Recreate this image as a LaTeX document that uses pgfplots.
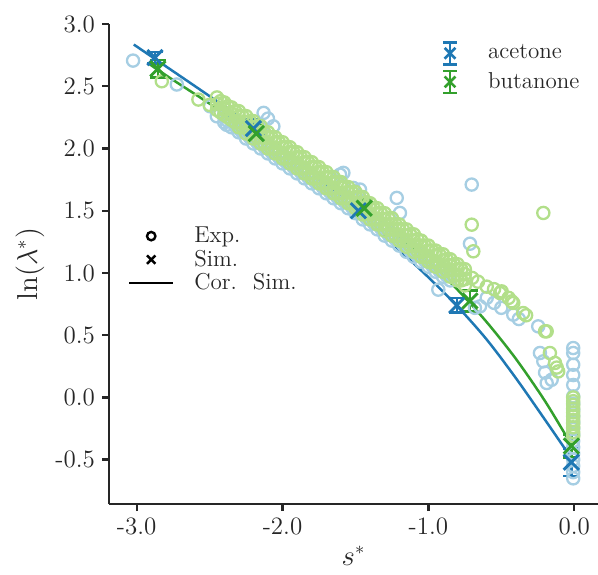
\documentclass[border=0pt]{standalone}
\usepackage{pgfplots}
\pgfplotsset{compat=1.18}
\definecolor{accb}{HTML}{1F78B4}
\definecolor{butg}{HTML}{33A02C}
\definecolor{lblue}{HTML}{A6CEE3}
\definecolor{lgreen}{HTML}{B2DF8A}
\definecolor{spine}{HTML}{262626}
\begin{document}
\begin{tikzpicture}
\begin{axis}[name=ax,
 scale only axis, width=244.5pt, height=240pt,
 xmin=-3.19, xmax=0.163, ymin=-0.856, ymax=3.0,
 axis x line*=bottom, axis y line*=left,
 axis line style={spine, line width=1.4pt},
 tick align=outside, major tick length=3.5pt,
 tick style={spine, line width=1.2pt},
 xtick={-3,-2,-1,0}, xticklabels={-3.0,-2.0,-1.0,0.0},
 ytick={-0.5,0,0.5,1,1.5,2,2.5,3}, yticklabels={-0.5,0.0,0.5,1.0,1.5,2.0,2.5,3.0},
 ticklabel style={font=\fontsize{12.5}{14}\selectfont, text=spine},
 xlabel={$s^*$}, ylabel={$\ln(\lambda^*)$},
 label style={font=\fontsize{13.5}{16}\selectfont, text=spine},
 xlabel style={at={(axis description cs:0.5,-0.108)}, anchor=center},
 ylabel style={at={(axis description cs:-0.1616,0.5)}, anchor=center},
 legend cell align=left,
 legend style={draw=none, fill=none, inner sep=0pt, outer sep=0pt,
   font=\fontsize{11.5}{13}\selectfont, text=spine,
   at={(axis description cs:0.6524,0.9646)}, anchor=north west,
   row sep=2pt, column sep=8pt, nodes={inner sep=0pt}},
]
% Exp. acetone
\addplot[forget plot, only marks, mark=o, mark size=3.05pt, line width=1.15pt, draw=lblue] coordinates {
(-3.025,2.706) (-2.725,2.514) (-2.497,2.339) (-2.451,2.259) (-2.383,2.19) (-2.29,2.152) (-2.13,2.286) (-2.10,2.24) (-2.063,2.178)
(-2.40,2.21) (-2.40,2.27) (-2.375,2.22) (-2.35,2.17) (-2.35,2.23) (-2.325,2.18) (-2.30,2.13) (-2.30,2.19) (-2.275,2.13)
(-2.25,2.08) (-2.25,2.14) (-2.225,2.09) (-2.20,2.04) (-2.20,2.10) (-2.175,2.05) (-2.15,2.00) (-2.15,2.06) (-2.125,2.01)
(-2.10,1.96) (-2.10,2.02) (-2.075,1.97) (-2.05,1.92) (-2.05,1.98) (-2.025,1.93) (-2.00,1.88) (-2.00,1.94) (-1.975,1.89)
(-1.95,1.84) (-1.95,1.90) (-1.925,1.85) (-1.90,1.80) (-1.90,1.86) (-1.875,1.81) (-1.85,1.76) (-1.85,1.82) (-1.825,1.77)
(-1.80,1.72) (-1.80,1.78) (-1.775,1.73) (-1.75,1.68) (-1.75,1.74) (-1.725,1.69) (-1.70,1.64) (-1.70,1.70) (-1.675,1.65)
(-1.65,1.60) (-1.65,1.66) (-1.625,1.61) (-1.60,1.56) (-1.60,1.62) (-1.575,1.57) (-1.55,1.52) (-1.55,1.58) (-1.525,1.53)
(-1.50,1.48) (-1.50,1.54) (-1.475,1.48) (-1.45,1.43) (-1.45,1.49) (-1.425,1.44) (-1.40,1.39) (-1.40,1.45) (-1.375,1.40)
(-1.35,1.35) (-1.35,1.41) (-1.325,1.36) (-1.30,1.30) (-1.30,1.36) (-1.275,1.31) (-1.25,1.26) (-1.25,1.32) (-1.225,1.27)
(-1.20,1.22) (-1.20,1.28) (-1.175,1.23) (-1.15,1.17) (-1.15,1.23) (-1.125,1.18) (-1.10,1.13) (-1.10,1.19) (-1.075,1.14)
(-1.05,1.09) (-1.05,1.15) (-1.025,1.10) (-1.00,1.05) (-1.00,1.11) (-0.975,1.06) (-0.95,1.01) (-0.95,1.07) (-0.925,1.02)
(-0.90,0.97) (-0.90,1.03) (-0.875,0.98) (-0.85,0.94) (-0.85,0.99)
(-1.995,1.91) (-1.926,1.884) (-1.789,1.777) (-1.697,1.696) (-1.606,1.616) (-1.537,1.565) (-1.515,1.683) (-1.583,1.804) (-1.606,1.79) (-1.469,1.67) (-1.217,1.603) (-1.195,1.482) (-0.703,1.71) (-0.715,1.235) (-0.932,0.866) (-0.681,0.72) (-0.646,0.732) (-0.60,0.80) (-0.55,0.76) (-0.50,0.72) (-0.418,0.665) (-0.38,0.63) (-0.247,0.571) (-0.235,0.357) (-0.212,0.29) (-0.189,0.116) (-0.155,0.142) (-0.20,0.20)
(-0.007,0.397) (-0.007,0.357) (-0.007,0.263) (-0.007,0.18) (-0.007,0.10) (-0.007,0.008) (-0.007,-0.05) (-0.007,-0.10) (-0.007,-0.15) (-0.007,-0.20) (-0.007,-0.25) (-0.007,-0.30) (-0.007,-0.35) (-0.007,-0.40) (-0.007,-0.45) (-0.007,-0.50) (-0.007,-0.55) (-0.007,-0.60) (-0.007,-0.65)
};
% Exp. butanone
\addplot[forget plot, only marks, mark=o, mark size=3.05pt, line width=1.15pt, draw=lgreen] coordinates {
(-2.828,2.54) (-2.577,2.393) (-2.50,2.35)
(-2.45,2.31) (-2.45,2.36) (-2.45,2.41) (-2.425,2.29) (-2.425,2.38)
(-2.40,2.27) (-2.40,2.32) (-2.40,2.37) (-2.375,2.25) (-2.375,2.34)
(-2.35,2.23) (-2.35,2.28) (-2.35,2.33) (-2.325,2.21) (-2.325,2.30)
(-2.30,2.17) (-2.30,2.21) (-2.30,2.26) (-2.30,2.30) (-2.275,2.17) (-2.275,2.26)
(-2.25,2.12) (-2.25,2.17) (-2.25,2.21) (-2.25,2.26) (-2.225,2.13) (-2.225,2.22)
(-2.20,2.08) (-2.20,2.13) (-2.20,2.17) (-2.20,2.22) (-2.175,2.09) (-2.175,2.18)
(-2.15,2.04) (-2.15,2.09) (-2.15,2.13) (-2.15,2.18) (-2.125,2.04) (-2.125,2.13)
(-2.10,2.00) (-2.10,2.04) (-2.10,2.09) (-2.10,2.13) (-2.075,2.00) (-2.075,2.09)
(-2.05,1.96) (-2.05,2.00) (-2.05,2.05) (-2.05,2.09) (-2.025,1.96) (-2.025,2.05)
(-2.00,1.92) (-2.00,1.96) (-2.00,2.01) (-2.00,2.05) (-1.975,1.92) (-1.975,2.01)
(-1.95,1.88) (-1.95,1.92) (-1.95,1.97) (-1.95,2.01) (-1.925,1.88) (-1.925,1.97)
(-1.90,1.84) (-1.90,1.88) (-1.90,1.93) (-1.90,1.97) (-1.875,1.84) (-1.875,1.93)
(-1.85,1.80) (-1.85,1.84) (-1.85,1.89) (-1.85,1.93) (-1.825,1.80) (-1.825,1.89)
(-1.80,1.76) (-1.80,1.80) (-1.80,1.85) (-1.80,1.89) (-1.775,1.76) (-1.775,1.85)
(-1.75,1.72) (-1.75,1.76) (-1.75,1.81) (-1.75,1.85) (-1.725,1.72) (-1.725,1.81)
(-1.70,1.68) (-1.70,1.72) (-1.70,1.77) (-1.70,1.81) (-1.675,1.68) (-1.675,1.77)
(-1.65,1.64) (-1.65,1.68) (-1.65,1.73) (-1.65,1.77) (-1.625,1.64) (-1.625,1.73)
(-1.60,1.60) (-1.60,1.64) (-1.60,1.69) (-1.60,1.73) (-1.575,1.60) (-1.575,1.69)
(-1.55,1.56) (-1.55,1.60) (-1.55,1.65) (-1.55,1.69) (-1.525,1.56) (-1.525,1.65)
(-1.50,1.52) (-1.50,1.56) (-1.50,1.61) (-1.50,1.65) (-1.475,1.52) (-1.475,1.61)
(-1.45,1.47) (-1.45,1.52) (-1.45,1.56) (-1.45,1.61) (-1.425,1.48) (-1.425,1.57)
(-1.40,1.43) (-1.40,1.47) (-1.40,1.52) (-1.40,1.56) (-1.375,1.43) (-1.375,1.52)
(-1.35,1.39) (-1.35,1.43) (-1.35,1.48) (-1.35,1.52) (-1.325,1.39) (-1.325,1.48)
(-1.30,1.34) (-1.30,1.39) (-1.30,1.43) (-1.30,1.48) (-1.275,1.35) (-1.275,1.44)
(-1.25,1.30) (-1.25,1.35) (-1.25,1.39) (-1.25,1.44) (-1.225,1.30) (-1.225,1.39)
(-1.20,1.26) (-1.20,1.30) (-1.20,1.35) (-1.20,1.39) (-1.175,1.26) (-1.175,1.35)
(-1.15,1.21) (-1.15,1.26) (-1.15,1.30) (-1.15,1.35) (-1.125,1.22) (-1.125,1.31)
(-1.10,1.17) (-1.10,1.22) (-1.10,1.26) (-1.10,1.31) (-1.075,1.18) (-1.075,1.27)
(-1.05,1.13) (-1.05,1.17) (-1.05,1.22) (-1.05,1.26) (-1.025,1.13) (-1.025,1.22)
(-1.00,1.09) (-1.00,1.13) (-1.00,1.18) (-1.00,1.22) (-0.975,1.09) (-0.975,1.18)
(-0.95,1.05) (-0.95,1.09) (-0.95,1.14) (-0.95,1.18) (-0.925,1.06) (-0.925,1.15)
(-0.90,1.01) (-0.90,1.06) (-0.90,1.10) (-0.90,1.15) (-0.875,1.02) (-0.875,1.11)
(-0.85,0.97) (-0.85,1.02) (-0.85,1.06) (-0.85,1.11) (-0.825,0.98) (-0.825,1.07)
(-0.80,0.94) (-0.80,0.98) (-0.80,1.03) (-0.80,1.07) (-0.775,0.94) (-0.775,1.03)
(-0.75,0.90) (-0.75,0.95) (-0.75,0.99) (-0.75,1.03)
(-0.70,0.96) (-0.692,1.174) (-0.703,1.388) (-0.66,0.93) (-0.60,0.89) (-0.55,0.87) (-0.509,0.839) (-0.498,0.852) (-0.45,0.80) (-0.429,0.772) (-0.418,0.759) (-0.35,0.678) (-0.33,0.66) (-0.212,1.482) (-0.20,0.531) (-0.189,0.531) (-0.167,0.357) (-0.132,0.277) (-0.11,0.209) (-0.12,0.24)
(-0.007,0.0) (-0.007,-0.03) (-0.007,-0.06) (-0.007,-0.09) (-0.007,-0.12) (-0.007,-0.15) (-0.007,-0.18) (-0.007,-0.21) (-0.007,-0.24) (-0.007,-0.28) (-0.007,-0.31)
};
% Cor. Sim. curves
\addplot[forget plot, accb, line width=1.25pt, smooth] coordinates {
(-3.02,2.835) (-2.75,2.62) (-2.5,2.42) (-2.2,2.175) (-2.0,1.995) (-1.75,1.76) (-1.5,1.51) (-1.25,1.24) (-1.0,0.965) (-0.8,0.73) (-0.6,0.465) (-0.4,0.155) (-0.2,-0.18) (-0.03,-0.47)
};
\addplot[forget plot, butg, line width=1.25pt, smooth] coordinates {
(-2.91,2.675) (-2.75,2.55) (-2.5,2.36) (-2.2,2.125) (-2.0,1.965) (-1.75,1.765) (-1.5,1.57) (-1.25,1.35) (-1.0,1.09) (-0.8,0.865) (-0.6,0.605) (-0.4,0.31) (-0.2,-0.03) (-0.03,-0.36)
};
% Sim. with error bars
\addplot[forget plot, only marks, mark=x, mark size=5.4pt, line width=1.45pt, color=accb,
  error bars/.cd, y dir=both, y explicit,
  error bar style={line width=1.3pt, accb},
  error mark options={rotate=90, mark size=4pt, line width=1.3pt, accb}] coordinates {
(-2.875,2.73) +- (0,0.045)
(-2.20,2.16) +- (0,0.075)
(-1.48,1.50) +- (0,0.05)
(-0.805,0.74) +- (0,0.06)
(-0.02,-0.52) +- (0,0.11)
};
\addplot[forget plot, only marks, mark=x, mark size=5.4pt, line width=1.45pt, color=butg,
  error bars/.cd, y dir=both, y explicit,
  error bar style={line width=1.3pt, butg},
  error mark options={rotate=90, mark size=4pt, line width=1.3pt, butg}] coordinates {
(-2.855,2.64) +- (0,0.07)
(-2.18,2.12) +- (0,0.07)
(-1.44,1.52) +- (0,0.07)
(-0.715,0.775) +- (0,0.085)
(-0.02,-0.39) +- (0,0.09)
};
\addlegendimage{legend image code/.code={
  \path[draw=none, fill=none] (0pt,-5.5pt) rectangle (22pt,5.5pt);
  \draw[accb, line width=1.3pt] (11pt,-5.5pt) -- (11pt,5.5pt);
  \draw[accb, line width=1.3pt] (7.5pt,-5.5pt) -- (14.5pt,-5.5pt) (7.5pt,5.5pt) -- (14.5pt,5.5pt);
  \draw[accb, line width=1.3pt] (8.3pt,-2.7pt) -- (13.7pt,2.7pt) (8.3pt,2.7pt) -- (13.7pt,-2.7pt);
}}
\addlegendentry{acetone}
\addlegendimage{legend image code/.code={
  \path[draw=none, fill=none] (0pt,-5.5pt) rectangle (22pt,5.5pt);
  \draw[butg, line width=1.3pt] (11pt,-5.5pt) -- (11pt,5.5pt);
  \draw[butg, line width=1.3pt] (7.5pt,-5.5pt) -- (14.5pt,-5.5pt) (7.5pt,5.5pt) -- (14.5pt,5.5pt);
  \draw[butg, line width=1.3pt] (8.3pt,-2.7pt) -- (13.7pt,2.7pt) (8.3pt,2.7pt) -- (13.7pt,-2.7pt);
}}
\addlegendentry{butanone}
\end{axis}
\begin{axis}[at={(ax.south west)}, anchor=south west,
 scale only axis, width=244.5pt, height=240pt,
 xmin=-3.19, xmax=0.163, ymin=-0.856, ymax=3.0, hide axis,
 legend cell align=left,
 legend style={draw=none, fill=none, inner sep=0pt, outer sep=0pt,
   font=\fontsize{11.5}{13}\selectfont, text=spine,
   at={(axis description cs:0.0389,0.581)}, anchor=north west,
   row sep=0.75pt, column sep=10pt, nodes={inner sep=0pt}},
]
\addlegendimage{legend image code/.code={
  \path[draw=none, fill=none] (0pt,-5.5pt) rectangle (22pt,5.5pt);
  \draw[black, line width=1.2pt] (11pt,0pt) circle (2.1pt);
}}
\addlegendentry{Exp.}
\addlegendimage{legend image code/.code={
  \path[draw=none, fill=none] (0pt,-5.5pt) rectangle (22pt,5.5pt);
  \draw[black, line width=1.2pt] (8.9pt,-2.1pt) -- (13.1pt,2.1pt) (8.9pt,2.1pt) -- (13.1pt,-2.1pt);
}}
\addlegendentry{Sim.}
\addlegendimage{legend image code/.code={
  \path[draw=none, fill=none] (0pt,-5.5pt) rectangle (22pt,5.5pt);
  \draw[black, line width=1.2pt] (0pt,0pt) -- (22pt,0pt);
}}
\addlegendentry{Cor.\hspace{8pt}Sim.}
\end{axis}
\pgfresetboundingbox
\path ([shift={(-54.5pt,-35pt)}]ax.south west) rectangle ([shift={(0pt,12pt)}]ax.north east);
\end{tikzpicture}
\end{document}
